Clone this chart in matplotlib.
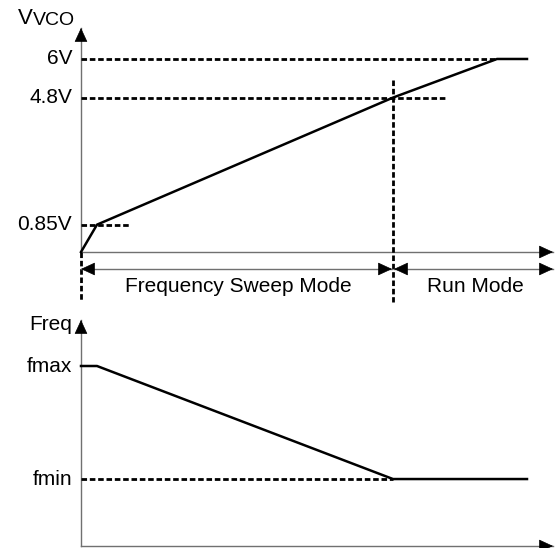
import matplotlib.pyplot as plt

plt.rcParams['font.family'] = ['Liberation Sans', 'DejaVu Sans']

# time points (arbitrary units)
t_knee = 0.16      # end of fast rise / fmax hold
t_sweep = 3.12     # end of frequency sweep
t_sat = 4.16       # Vvco reaches 6V
t_end = 4.46       # end of drawn curves
t_axis = 4.74      # end of time axis

# Vvco waveform
vco_t = [0, t_knee, t_sweep, t_sat, t_end]
vco_v = [0, 0.85, 4.8, 6.0, 6.0]
vco_levels = [6.0, 4.8, 0.85]
vco_labels = ['6V', '4.8V', '0.85V']
vco_guide_end = [t_sat, 3.64, 0.49]

# frequency waveform (relative, fmax = 1)
fmax, fmin = 1.0, 0.372
freq_t = [0, t_knee, t_sweep, t_end]
freq_f = [fmax, fmax, fmin, fmin]

modes = ['Frequency Sweep Mode', 'Run Mode']

axis_col = '#707070'
fs = 15
dash = (0, (2.0, 1.0))
dash_lw = 2.0

fig = plt.figure(figsize=(5.55, 5.48), dpi=100)
ax1 = fig.add_axes([81 / 555, (548 - 252) / 548, 474 / 555, 224 / 548])
ax2 = fig.add_axes([81 / 555, (548 - 546) / 548, 474 / 555, 226 / 548])

v_top = 224 / 32.17
f_top = 226 / 180
ax1.set_xlim(0, t_axis)
ax1.set_ylim(0, v_top)
ax2.set_xlim(0, t_axis)
ax2.set_ylim(0, f_top)
for ax in (ax1, ax2):
    ax.axis('off')


def head(ax, xy, dx, dy):
    # small black filled arrow head with its tip at xy, pointing along (dx, dy)
    ax.annotate('', xy=xy, xytext=(-dx * 7, -dy * 7), textcoords='offset points',
                arrowprops=dict(arrowstyle='-|>,head_length=0.65,head_width=0.3',
                                color='black', lw=0.5, shrinkA=0, shrinkB=0,
                                mutation_scale=14),
                annotation_clip=False)


def axes_arrows(ax, ytop):
    ax.plot([0, 0], [0, ytop], color=axis_col, lw=1.0, clip_on=False)
    ax.plot([0, t_axis - 0.02], [0, 0], color=axis_col, lw=1.0, clip_on=False)
    head(ax, (0, ytop), 0, 1)
    head(ax, (t_axis - 0.02, 0), 1, 0)


axes_arrows(ax1, v_top)
axes_arrows(ax2, f_top)

# --- top panel: Vvco ---
ax1.plot(vco_t, vco_v, color='black', lw=1.8, clip_on=False)
for lvl, lab, xe in zip(vco_levels, vco_labels, vco_guide_end):
    ax1.plot([0, xe], [lvl, lvl], color='black', lw=dash_lw, ls=dash, clip_on=False)
    ax1.text(-0.09, lvl, lab, ha='right', va='center', fontsize=fs)

y_low = -50 / 32.17
ax1.plot([t_sweep, t_sweep], [5.35, y_low], color='black', lw=dash_lw, ls=dash, clip_on=False)
ax1.plot([0, 0], [0, y_low], color='black', lw=dash_lw, ls=dash, clip_on=False)

t1 = ax1.text(-0.63, v_top - 0.02, 'V', ha='left', va='bottom', fontsize=fs + 1)
ax1.annotate('VCO', xy=(1, 0), xycoords=t1, ha='left', va='bottom', fontsize=fs - 1)

# mode arrows
y_mode = -17 / 32.17
spans = [(0, t_sweep - 0.01), (t_sweep + 0.01, t_axis - 0.02)]
for (xa, xb), name in zip(spans, modes):
    ax1.plot([xa, xb], [y_mode, y_mode], color=axis_col, lw=1.0, clip_on=False)
    head(ax1, (xa, y_mode), -1, 0)
    head(ax1, (xb, y_mode), 1, 0)
    ax1.text((xa + xb) / 2 + 0.02, -34 / 32.17, name, ha='center', va='center',
             fontsize=fs)

# --- bottom panel: frequency ---
ax2.plot(freq_t, freq_f, color='black', lw=1.8, clip_on=False)
ax2.plot([0, t_sweep], [fmin, fmin], color='black', lw=dash_lw, ls=dash, clip_on=False)
ax2.text(-0.09, fmax, 'fmax', ha='right', va='center', fontsize=fs)
ax2.text(-0.09, fmin, 'fmin', ha='right', va='center', fontsize=fs)
ax2.text(-0.09, f_top - 4 / 180, 'Freq', ha='right', va='center', fontsize=fs)

fig.savefig('out.png', dpi=100)
